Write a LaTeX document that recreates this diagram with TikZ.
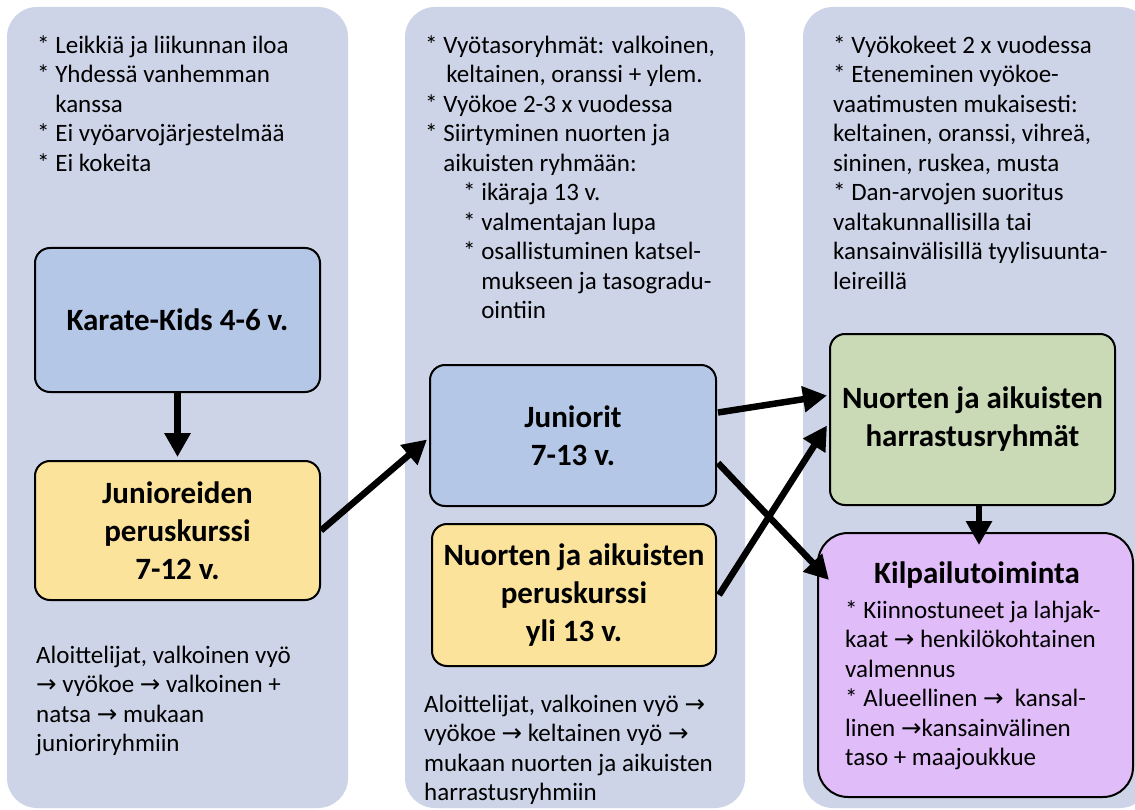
\documentclass[tikz,border=0pt]{standalone}
\usepackage{fontspec}
\setmainfont{Carlito}
\newfontfamily\dejavu{DejaVu Sans}
\usetikzlibrary{arrows.meta,calc}
\definecolor{colbgfill}{HTML}{CED4E8}
\definecolor{bluebox}{HTML}{B4C7E7}
\definecolor{yellowbox}{HTML}{FBE39C}
\definecolor{greenbox}{HTML}{CADAB6}
\definecolor{purplebox}{HTML}{E0BCF8}
\newcommand\titlefont{\fontsize{31}{38}\selectfont\bfseries}
\newcommand\bodyfont{\fontsize{25}{29.5}\selectfont}
\newcommand\myarr{{\dejavu\fontsize{24.5}{29.5}\selectfont →}}
\begin{document}
\begin{tikzpicture}[x=1pt,y=-1pt,
  column/.style={fill=colbgfill, rounded corners=30pt},
  box/.style={draw=black, line width=2pt, rounded corners=15pt, inner sep=0pt, align=center, font=\titlefont},
  txt/.style={anchor=north west, inner sep=0pt, align=left, font=\bodyfont},
  arr/.style={line width=6.5pt, -{Triangle[length=24pt,width=25pt]}}
]
\useasboundingbox (0,0) rectangle (1135,810);
\clip (0,0) rectangle (1135,810);
\fill[white] (0,0) rectangle (1135,810);
% columns
\fill[column] (7,7) rectangle (348,808);
\fill[column] (405,7) rectangle (745,808);
\fill[column] (803,7) rectangle (1150,808);

% column texts
\node[txt] (t1) at (37,32.5) {\strut* Leikkiä ja liikunnan iloa\\
* Yhdessä vanhemman\\
\phantom{* }kanssa\\
* Ei vyöarvojärjestelmää\\
* Ei kokeita};

\node[txt] (t2) at (425,32.5) {\strut* Vyötasoryhmät: valkoinen,\\
\phantom{* }\hspace*{3pt}keltainen, oranssi + ylem.\\
* Vyökoe 2-3 x vuodessa\\
* Siirtyminen nuorten ja\\
\phantom{* }aikuisten ryhmään:\\
\hspace*{38pt}* ikäraja 13 v.\\
\hspace*{38pt}* valmentajan lupa\\
\hspace*{38pt}* osallistuminen katsel-\\
\hspace*{38pt}\phantom{* }mukseen ja tasogradu-\\
\hspace*{38pt}\phantom{* }ointiin};

\node[txt] (t3) at (833,32.5) {\strut* Vyökokeet 2 x vuodessa\\
* Eteneminen vyökoe-\\
vaatimusten mukaisesti:\\
keltainen, oranssi, vihreä,\\
sininen, ruskea, musta\\
* Dan-arvojen suoritus\\
valtakunnallisilla tai\\
kansainvälisillä tyylisuunta-\\
leireillä};

\node[txt] (b1) at (36,642.5) {\strut Aloittelijat, valkoinen vyö\\
\myarr{} vyökoe \myarr{} valkoinen +\\
natsa \myarr{} mukaan\\
junioriryhmiin};

\node[txt] (b2) at (424,691.5) {\strut Aloittelijat, valkoinen vyö \myarr\\
vyökoe \myarr{} keltainen vyö \myarr\\
mukaan nuorten ja aikuisten\\
harrastusryhmiin};

% boxes
\node[box, fill=bluebox, minimum width=285pt, minimum height=144pt] (kk) at (177.5,320) {Karate-Kids 4-6 v.};
\node[box, fill=yellowbox, minimum width=285pt, minimum height=139pt] (jp) at (177.5,530.5) {Junioreiden\\ peruskurssi\\ 7-12 v.};
\node[box, fill=bluebox, minimum width=286pt, minimum height=141pt] (jun) at (573,435.5) {Juniorit\\ 7-13 v.};
\node[box, fill=yellowbox, minimum width=284pt, minimum height=142pt] (nap) at (574,595) {Nuorten ja aikuisten\\ peruskurssi\\ yli 13 v.};
\node[box, fill=greenbox, minimum width=285pt, minimum height=171pt] (har) at (972.5,419.5) {Nuorten ja aikuisten\\ harrastusryhmät};
\node[box, fill=purplebox, rounded corners=30pt, minimum width=315pt, minimum height=264pt] (kil) at (975.5,665) {};
\node[anchor=base, inner sep=0pt, font=\titlefont] (kilt) at (977,583) {Kilpailutoiminta};
\node[txt] (kilb) at (845,597.5) {\strut* Kiinnostuneet ja lahjak-\\
kaat \myarr{} henkilökohtainen\\
valmennus\\
* Alueellinen \myarr{}\ \ kansal-\\
linen \myarr kansainvälinen\\
taso + maajoukkue};

% arrows
\draw[arr] (kk.south) -- ($(jp.north)+(0,-3)$);
\draw[arr] (jp.east) -- ($(jun.west)+(-2,4)$);
\draw[arr] ($(jun.east)+(1,-23)$) -- ($(har.west)+(-2,-24)$);
\draw[arr] ($(jun.east)+(1,27.5)$) -- ($(kil.west)+(12,-85)$);
\draw[arr] ($(nap.east)+(2,0)$) -- ($(har.west)+(-2,6)$);
\draw[arr] ($(har.south)+(6.5,0)$) -- ($(kil.north)+(3.5,13)$);
\end{tikzpicture}
\end{document}
